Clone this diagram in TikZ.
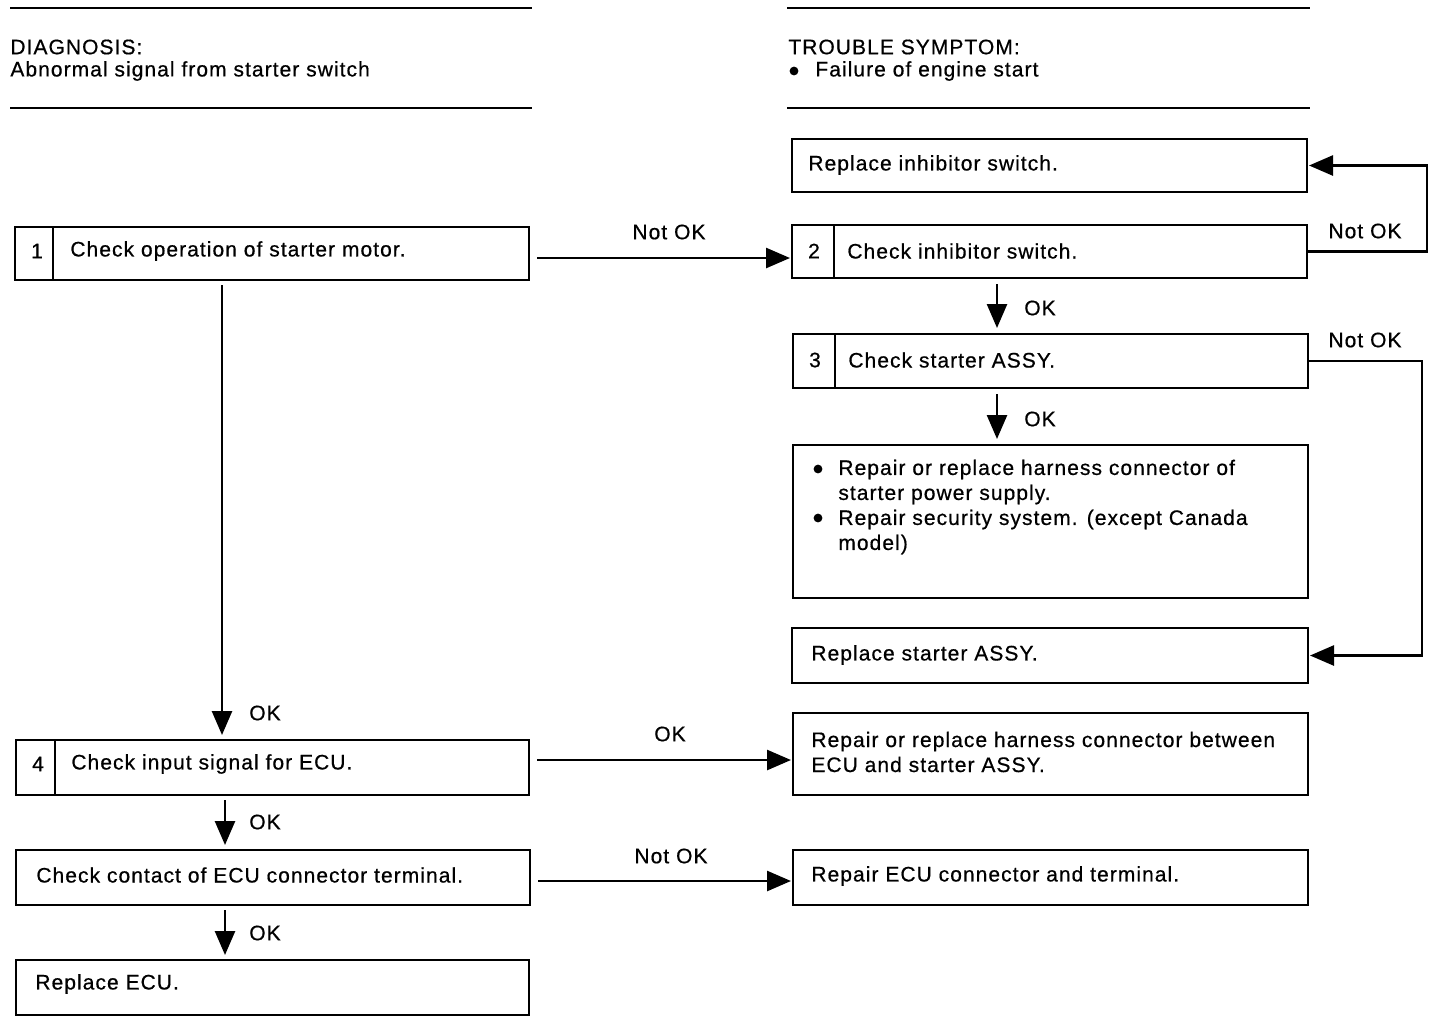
\documentclass[tikz,border=0pt]{standalone}
\usepackage{fontspec}
\setmainfont{Liberation Sans}[LetterSpace=5,FakeBold=0.6]
\usetikzlibrary{arrows.meta}
\begin{document}
\begin{tikzpicture}[x=0.5pt,y=-0.5pt,
  box/.style={draw, line width=1.1pt, anchor=north west, inner sep=0pt, outer sep=0pt},
  txt/.style={anchor=west, inner sep=0pt, font=\fontsize{10.5}{12.5}\selectfont, align=left},
  lbl/.style={inner sep=0pt, font=\fontsize{10.5}{12.5}\selectfont},
  bul/.style={circle, fill, inner sep=0pt, minimum size=4.4pt},
  conn/.style={line width=1.3pt, -{Triangle[length=12pt,width=10pt]}},
  hrule/.style={line width=1pt}]
\useasboundingbox (0,0) rectangle (1440,1024);

% header
\coordinate (h1a) at (10,8);   \coordinate (h1b) at (532,8);
\coordinate (h2a) at (10,108); \coordinate (h2b) at (532,108);
\coordinate (h3a) at (787,8);  \coordinate (h3b) at (1310,8);
\coordinate (h4a) at (787,108);\coordinate (h4b) at (1310,108);
\draw[hrule] (h1a) -- (h1b);
\draw[hrule] (h2a) -- (h2b);
\draw[hrule] (h3a) -- (h3b);
\draw[hrule] (h4a) -- (h4b);
\node[txt] (diag) at (10,47) {DIAGNOSIS:};
\node[txt] (diagt) at (10,71) {Abnormal signal from starter switch};
\node[txt] (ts) at (788,47) {TROUBLE SYMPTOM:};
\node[bul] (tsb) at (794,71) {};
\node[txt] (tst) at (815,71) {Failure of engine start};

% left column
\node[box, minimum width=257pt, minimum height=26.5pt] (b1) at (15,227) {};
\draw[line width=1pt] ([xshift=19pt]b1.north west) -- ([xshift=19pt]b1.south west);
\node[lbl] (b1n) at (37,251) {1};
\node[txt] (b1t) at (70,251) {Check operation of starter motor.};

\node[box, minimum width=256.5pt, minimum height=27.5pt] (b4) at (16,740) {};
\draw[line width=1pt] ([xshift=19.5pt]b4.north west) -- ([xshift=19.5pt]b4.south west);
\node[lbl] (b4n) at (38,764) {4};
\node[txt] (b4t) at (71,764) {Check input signal for ECU.};

\node[box, minimum width=257pt, minimum height=27.5pt] (cc) at (16,850) {};
\node[txt] (cct) at (36,875) {Check contact of ECU connector terminal.};

\node[box, minimum width=256.5pt, minimum height=27.5pt] (re) at (16,960) {};
\node[txt] (ret) at (35,984) {Replace ECU.};

% right column
\node[box, minimum width=257.5pt, minimum height=26.5pt] (rinh) at (792,139) {};
\node[txt] (rinht) at (808,165) {Replace inhibitor switch.};

\node[box, minimum width=257.5pt, minimum height=26.5pt] (b2) at (792,225) {};
\draw[line width=1pt] ([xshift=21pt]b2.north west) -- ([xshift=21pt]b2.south west);
\node[lbl] (b2n) at (814,251) {2};
\node[txt] (b2t) at (847,251) {Check inhibitor switch.};

\node[box, minimum width=257.5pt, minimum height=27pt] (b3) at (793,334) {};
\draw[line width=1pt] ([xshift=21pt]b3.north west) -- ([xshift=21pt]b3.south west);
\node[lbl] (b3n) at (815,360) {3};
\node[txt] (b3t) at (848,360) {Check starter ASSY.};

\node[box, minimum width=257.5pt, minimum height=76.5pt] (bb) at (793,445) {};
\node[bul] (bb1b) at (818,469) {};
\node[txt] (bb1) at (838,482) {Repair or replace harness connector of\\starter power supply.};
\node[bul] (bb2b) at (818,518) {};
\node[txt] (bb2) at (838,532) {Repair security system. (except Canada\\model)};

\node[box, minimum width=258pt, minimum height=27.5pt] (rsa) at (792,628) {};
\node[txt] (rsat) at (811,655) {Replace starter ASSY.};

\node[box, minimum width=257.5pt, minimum height=41pt] (rh) at (793,713) {};
\node[txt] (rht) at (811,752) {Repair or replace harness connector between\\ECU and starter ASSY.};

\node[box, minimum width=257.5pt, minimum height=27.5pt] (recu) at (793,850) {};
\node[txt] (recut) at (811,876) {Repair ECU connector and terminal.};

% connector helper coordinates
\coordinate (xa) at (222,0);
\coordinate (xb) at (225,0);
\coordinate (xc) at (997,0);
\coordinate (xr1) at (1427,0);
\coordinate (xr2) at (1422,0);
\coordinate (y1) at (0,258);
\coordinate (y4) at (0,760);
\coordinate (y5) at (0,881);

% connectors
\draw[conn, shorten <=4pt, shorten >=1pt] (b1.east |- y1) -- (b2.west |- y1);
\node[lbl] (l1) at (669,232) {Not OK};

\draw[conn, shorten >=1pt] (b2.east) -- (b2.east -| xr1) -- (rinh.east -| xr1) -- (rinh.east);
\node[lbl] (l2) at (1365,231) {Not OK};

\draw[conn, shorten <=3pt, shorten >=3pt] (b2.south -| xc) -- (b3.north -| xc);
\node[lbl] (l3) at (1040,308) {OK};

\draw[conn, shorten >=1pt] (b3.east) -- (b3.east -| xr2) -- (rsa.east -| xr2) -- (rsa.east);
\node[lbl] (l4) at (1365,340) {Not OK};

\draw[conn, shorten <=3pt, shorten >=3pt] (b3.south -| xc) -- (bb.north -| xc);
\node[lbl] (l5) at (1040,419) {OK};

\draw[conn, shorten <=2.5pt, shorten >=2.5pt] (b1.south -| xa) -- (b4.north -| xa);
\node[lbl] (l6) at (265,713) {OK};

\draw[conn, shorten <=4pt, shorten >=1pt] (b4.east |- y4) -- (rh.west |- y4);
\node[lbl] (l7) at (670,734) {OK};

\draw[conn, shorten <=2.5pt, shorten >=2.5pt] (b4.south -| xb) -- (cc.north -| xb);
\node[lbl] (l8) at (265,822) {OK};

\draw[conn, shorten <=4pt, shorten >=1pt] (cc.east |- y5) -- (recu.west |- y5);
\node[lbl] (l9) at (671,856) {Not OK};

\draw[conn, shorten <=2.5pt, shorten >=2.5pt] (cc.south -| xb) -- (re.north -| xb);
\node[lbl] (l10) at (265,933) {OK};
\end{tikzpicture}
\end{document}
